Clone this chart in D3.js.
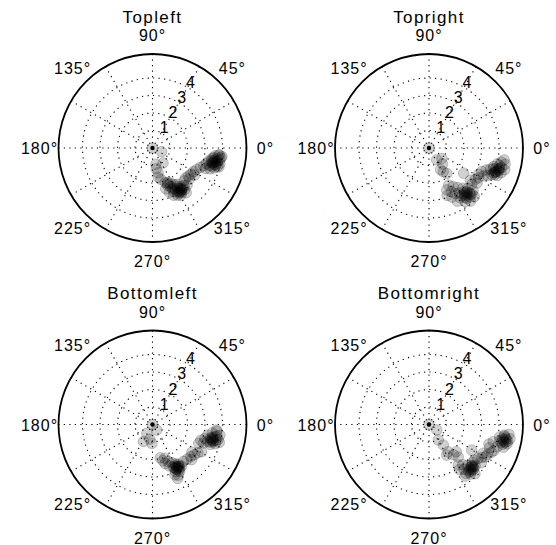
<!DOCTYPE html>
<html>
<head>
<meta charset="utf-8">
<script src="https://cdn.jsdelivr.net/npm/d3@7"></script>
<style>
  body { margin: 0; background: #fff; }
  text { font-family: "Liberation Sans", Arial, sans-serif; fill: #000; }
</style>
</head>
<body>
<svg id="chart" width="556" height="545"></svg>
<script>
// panel titles, radial ticks, spokes and angle labels
const titles = ['Topleft', 'Topright', 'Bottomleft', 'Bottomright'];
const ringTicks = [1, 2, 3, 4];
const spokeAngles = [0, 30, 60, 90, 120, 150];
const angleLabels = [0, 45, 90, 135, 180, 225, 270, 315];
const rMax = 5.37;

// [theta (deg), rho]
const topleft = [
  [0, 0],
  [-22, 0.56], [-78, 0.95], [-80, 1.2], [-77, 1.45], [-79, 1.7], [-75, 1.85], [-55, 1.05],
  [-70, 2.1], [-66, 2.15], [-68, 2.3], [-63, 2.25], [-72, 2.45], [-65, 2.45],
  [-60, 2.4], [-56, 2.5], [-62, 2.6], [-58, 2.7], [-54, 2.75], [-50, 2.8],
  [-64, 2.8], [-60, 2.9], [-56, 2.95], [-52, 3.0], [-55, 2.85], [-57, 3.05],
  [-62, 3.05], [-59, 3.15], [-53, 3.2], [-66, 2.95], [-69, 2.7], [-47, 2.9],
  [-55, 2.9], [-56, 2.8], [-58, 2.95], [-67, 2.2],
  [-61, 2.75], [-57, 2.6], [-53, 2.9], [-59, 3.0], [-64, 2.6],
  [-46, 2.6], [-42, 2.55], [-38, 2.6], [-34, 2.65], [-30, 2.7], [-26, 2.8], [-40, 2.75], [-33, 2.85],
  [-22, 2.95], [-19, 3.1], [-16, 3.2], [-21, 3.25], [-13, 3.3], [-17, 3.4], [-10, 3.45],
  [-14, 3.5], [-20, 3.5], [-7, 3.6], [-11, 3.6], [-15, 3.65], [-18, 3.7], [-9, 3.75],
  [-13, 3.8], [-6, 3.85], [-16, 3.85], [-10, 3.9], [-13, 3.95], [-7, 4.0], [-6, 3.8],
  [-14, 3.55], [-12, 3.7], [-15, 3.75], [-11, 3.8], [-13, 3.6],
  [-17, 3.55], [-9, 3.55], [-12, 3.45], [-16, 3.95], [-8, 3.95]
];
const topright = [
  [0, 0],
  [-57, 0.8], [-39, 0.95], [-50, 1.2], [-59, 1.58], [-55, 1.77], [-62, 1.4],
  [-62, 2.4], [-67, 2.6], [-58, 2.6], [-63, 2.8], [-69, 2.9], [-54, 2.8], [-60, 3.0],
  [-65, 3.1], [-50, 3.0], [-56, 3.1], [-46, 3.2], [-52, 3.3], [-58, 3.35], [-62, 3.45],
  [-48, 3.45], [-54, 3.5], [-50, 3.65], [-56, 3.7], [-44, 3.5], [-52, 3.85], [-47, 3.8],
  [-50, 3.35], [-51, 3.45], [-49, 3.3], [-53, 3.4], [-48, 3.55],
  [-55, 3.3], [-47, 3.6], [-53, 3.6], [-51, 3.2],
  [-36, 2.45], [-38, 3.0], [-34, 3.2], [-36, 3.4], [-31, 3.3], [-40, 3.2],
  [-28, 3.2], [-24, 3.3], [-27, 3.5], [-21, 3.5], [-25, 3.7], [-19, 3.7], [-23, 3.9],
  [-16, 3.85], [-20, 4.0], [-13, 4.0], [-17, 4.15], [-22, 4.2], [-11, 4.2], [-15, 4.3],
  [-19, 4.35], [-12, 4.45], [-16, 4.5], [-9, 4.35],
  [-19, 4.1], [-20, 4.05], [-18, 4.2], [-21, 3.95], [-17, 4.0],
  [-14, 4.15], [-22, 4.05], [-16, 4.2], [-18, 3.85]
];
const bottomleft = [
  [0, 0],
  [-53, 0.4], [-123, 0.6], [-118, 1.1], [-92, 1.08], [-100, 0.85],
  [-77, 1.95], [-74, 2.15], [-70, 2.05], [-72, 2.35], [-67, 2.3], [-68, 2.55], [-63, 2.45],
  [-64, 2.7], [-60, 2.6], [-57, 2.7], [-61, 2.85], [-58, 2.95], [-64, 3.0], [-60, 3.1],
  [-55, 2.9], [-63, 3.25], [-65, 3.4], [-66, 3.15],
  [-60, 2.78], [-61, 2.7], [-59, 2.85], [-62, 2.9],
  [-58, 2.8], [-63, 2.8], [-60, 3.0], [-57, 2.85],
  [-50, 2.75], [-45, 2.8], [-40, 2.85], [-36, 2.95], [-32, 3.05], [-42, 3.0], [-35, 2.75], [-29, 3.2],
  [-22, 2.85], [-18, 2.9], [-20, 3.1], [-15, 3.1], [-11, 3.2], [-17, 3.3], [-13, 3.4],
  [-8, 3.45], [-19, 3.5], [-15, 3.6], [-11, 3.65], [-6, 3.7], [-17, 3.75], [-13, 3.85],
  [-9, 3.9], [-5, 3.67], [-15, 3.95],
  [-15, 3.5], [-14, 3.45], [-16, 3.6], [-13, 3.55],
  [-12, 3.5], [-17, 3.45], [-10, 3.75], [-14, 3.75]
];
const bottomright = [
  [0, 0],
  [-35, 0.54], [-59, 1.03], [-55, 1.43], [-55, 1.9], [-51, 2.23], [-60, 2.02], [-48, 2.5],
  [-31, 2.84], [-45, 2.2],
  [-54, 2.86], [-56, 3.1], [-50, 3.0], [-52, 3.25], [-47, 3.2], [-53, 3.5], [-49, 3.45],
  [-44, 3.35], [-55, 3.6], [-50, 3.7], [-46, 3.6], [-42, 3.55], [-41, 3.3], [-47, 3.85],
  [-45, 3.43], [-44, 3.5], [-46, 3.4], [-48, 3.6],
  [-47, 3.5], [-50, 3.55], [-45, 3.6], [-43, 3.45],
  [-38, 3.3], [-35, 3.4], [-32, 3.55], [-36, 3.7], [-30, 3.7], [-28, 3.5],
  [-27, 3.75], [-24, 3.9], [-21, 3.7], [-18, 3.6], [-22, 4.0], [-15, 3.8], [-18, 4.1],
  [-13, 4.15], [-10, 4.1], [-15, 4.35], [-8, 4.35], [-11, 4.5], [-14, 4.6], [-7, 4.6],
  [-10, 4.7], [-17, 4.45],
  [-12, 4.34], [-11, 4.3], [-13, 4.4], [-10, 4.45],
  [-9, 4.35], [-13, 4.5], [-12, 4.6], [-14, 4.25]
];

const panels = [topleft, topright, bottomleft, bottomright];
const centres = [[152.5, 148], [429, 148], [152.5, 424.5], [429, 424.5]];
const outerR = 94;

const svg = d3.select('#chart');
const r = d3.scaleLinear().domain([0, rMax]).range([0, outerR]);
const ang = d3.scaleLinear().domain([0, 360]).range([0, 2 * Math.PI]);

const px = (t, rho) => r(rho) * Math.cos(ang(t));
const py = (t, rho) => -r(rho) * Math.sin(ang(t));

panels.forEach((data, i) => {
  const g = svg.append('g')
      .attr('transform', 'translate(' + centres[i][0] + ',' + centres[i][1] + ')');

  // dotted rings
  g.selectAll('circle.ring').data(ringTicks).enter()
      .append('circle').attr('class', 'ring')
      .attr('r', (d) => r(d))
      .attr('fill', 'none').attr('stroke', '#000')
      .attr('stroke-width', 1.1).attr('stroke-dasharray', '1.2 4.3');

  // dotted spokes
  g.selectAll('line.spoke').data(spokeAngles).enter()
      .append('line').attr('class', 'spoke')
      .attr('x1', (d) => px(d, rMax)).attr('y1', (d) => py(d, rMax))
      .attr('x2', (d) => px(d + 180, rMax)).attr('y2', (d) => py(d + 180, rMax))
      .attr('stroke', '#000').attr('stroke-width', 1.1)
      .attr('stroke-dasharray', '1.2 4.3');

  // points
  g.selectAll('circle.pt').data(data).enter()
      .append('circle').attr('class', 'pt')
      .attr('cx', (d) => px(d[0], d[1])).attr('cy', (d) => py(d[0], d[1]))
      .attr('r', 5.3)
      .attr('fill', '#000').attr('fill-opacity', 0.18)
      .attr('stroke', '#000').attr('stroke-opacity', 0.28).attr('stroke-width', 0.7);

  // dark origin marker
  g.append('circle').attr('cx', px(0, 0)).attr('cy', py(0, 0))
      .attr('r', 2.2).attr('fill', '#000');

  // outer circle
  g.append('circle').attr('r', r(rMax))
      .attr('fill', 'none').attr('stroke', '#000').attr('stroke-width', 1.8);

  // ring labels
  g.selectAll('text.rl').data(ringTicks).enter()
      .append('text').attr('class', 'rl')
      .attr('x', (d) => (r(d) + 6) * Math.cos(ang(60)))
      .attr('y', (d) => -(r(d) + 6) * Math.sin(ang(60)) + 5.5)
      .attr('text-anchor', 'middle')
      .style('font-size', '16px')
      .text((d) => d);

  // angle labels
  g.selectAll('text.al').data(angleLabels).enter()
      .append('text').attr('class', 'al')
      .attr('x', (d) => 113 * Math.cos(ang(d)))
      .attr('y', (d) => -113 * Math.sin(ang(d)) + 6)
      .attr('text-anchor', 'middle')
      .style('font-size', '16px').style('letter-spacing', '1px')
      .text((d) => d + '°');

  // title
  g.append('text').attr('x', 0).attr('y', -125.5)
      .attr('text-anchor', 'middle')
      .style('font-size', '17px').style('letter-spacing', '1.4px')
      .text(titles[i]);
});
</script>
</body>
</html>
